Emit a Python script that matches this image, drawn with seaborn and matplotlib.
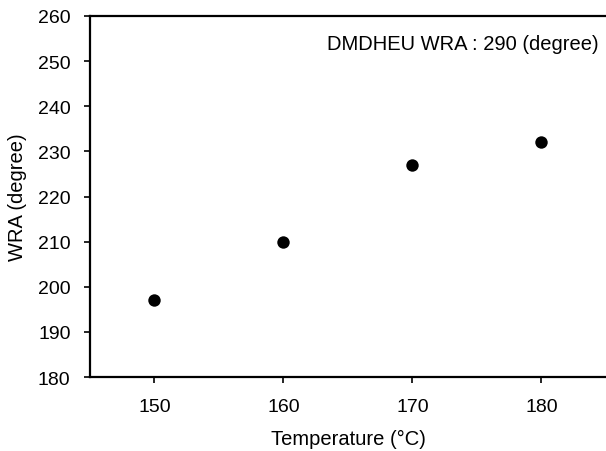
import numpy as np
import pandas as pd
import matplotlib
matplotlib.use("Agg")
import matplotlib.pyplot as plt
import seaborn as sns

# data
temperature = [150, 160, 170, 180]
wra = [197, 210, 227, 232]
x_ticks = [150, 160, 170, 180]
y_ticks = [180, 190, 200, 210, 220, 230, 240, 250, 260]
note = "DMDHEU WRA : 290 (degree)"

df = pd.DataFrame({"Temperature": temperature, "WRA": wra})

sns.set_style("ticks")
plt.rcParams['font.family'] = ['Liberation Sans', 'DejaVu Sans']
plt.rcParams['font.size'] = 14
plt.rcParams['text.color'] = 'black'
plt.rcParams['axes.labelcolor'] = 'black'

fig = plt.figure(figsize=(6.06, 4.52), dpi=100)
ax = fig.add_axes([0.1485, 0.1637, 0.8515, 0.7987])

sns.scatterplot(data=df, x="Temperature", y="WRA", ax=ax, color="black",
                s=80, edgecolor="black", linewidth=0, zorder=3)

ax.set_xlim(145, 185)
ax.set_ylim(180, 260)
ax.set_xticks(x_ticks)
ax.set_yticks(y_ticks)
ax.tick_params(direction="out", length=4, width=1.2, colors="black",
               labelsize=14, bottom=True, left=True)
ax.tick_params(axis="x", pad=11)
ax.tick_params(axis="y", pad=10)

for side in ["left", "bottom", "top"]:
    ax.spines[side].set_visible(True)
    ax.spines[side].set_color("black")
    ax.spines[side].set_linewidth(1.6)
ax.spines["right"].set_visible(False)

ax.set_xlabel("Temperature (°C)", fontsize=14.5, labelpad=10)
ax.set_ylabel("WRA (degree)", fontsize=14.5, labelpad=8)

ax.text(0.985, 0.925, note, transform=ax.transAxes, ha="right", va="center",
        fontsize=14.5)

fig.savefig("out.png", dpi=100)
